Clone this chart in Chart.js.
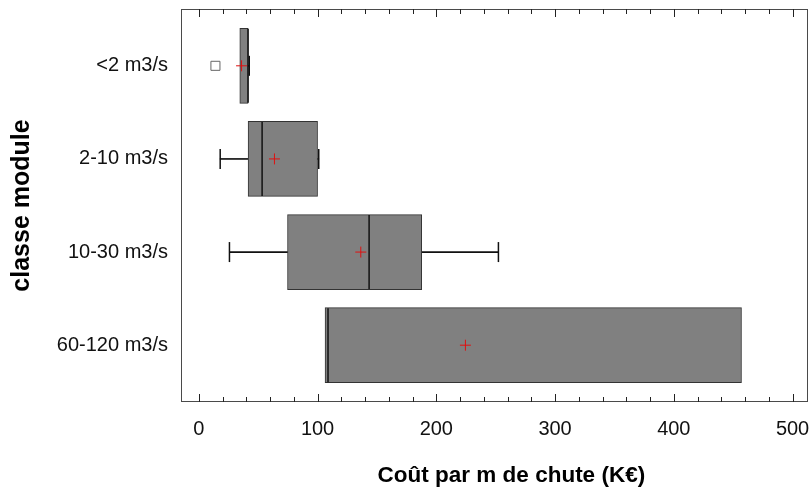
<!DOCTYPE html>
<html>
<head>
<meta charset="utf-8">
<script src="https://cdn.jsdelivr.net/npm/chart.js@4.4.0/dist/chart.umd.min.js"></script>
<style>
  html, body { margin: 0; padding: 0; background: #fff; }
  #wrap { width: 810px; height: 498px; }
</style>
</head>
<body>
<div id="wrap"><canvas id="boxChart" width="810" height="498"></canvas></div>
<script>
// --- Data ---
const categories = ["<2 m3/s", "2-10 m3/s", "10-30 m3/s", "60-120 m3/s"];
const q1Values = [34.5, 41.5, 74.7, 106.3];
const q3Values = [41.5, 100, 187.7, 457];
const medianValues = [41.5, 53.3, 143.4, 108.8];
const meanValues = [36, 63.7, 136.4, 224.5];
const whiskerLow = [34.5, 18, 25.8, 106.3];
const whiskerHigh = [42.5, 101, 252.3, 457];
const outlierCats = [0];
const outlierValues = [14];
const xTickLabels = [0, 100, 200, 300, 400, 500];
const xMinorTicks = [0, 20, 40, 60, 80, 100, 120, 140, 160, 180, 200, 220, 240, 260, 280, 300,
  320, 340, 360, 380, 400, 420, 440, 460, 480, 500];

const FONT = "'Liberation Sans Narrow', 'Arial Narrow', 'Liberation Sans', Arial, sans-serif";

// --- Build datasets ---
const whiskerData = [];
categories.forEach((_, i) => {
  if (whiskerLow[i] < q1Values[i]) whiskerData.push({ x: [whiskerLow[i], q1Values[i]], y: i });
  if (whiskerHigh[i] > q3Values[i]) whiskerData.push({ x: [q3Values[i], whiskerHigh[i]], y: i });
});

const capData = [];
categories.forEach((_, i) => {
  if (whiskerLow[i] < q1Values[i]) capData.push({ x: whiskerLow[i], y: i });
  if (whiskerHigh[i] > q3Values[i]) capData.push({ x: whiskerHigh[i], y: i });
});

const boxData = categories.map((_, i) => ({ x: [q1Values[i], q3Values[i]], y: i }));
const medianData = categories.map((_, i) => ({ x: medianValues[i], y: i }));
const meanData = categories.map((_, i) => ({ x: meanValues[i], y: i }));
const outlierData = outlierCats.map((c, i) => ({ x: outlierValues[i], y: c }));

// frame + inward tick marks
const frameTicks = {
  id: "frameTicks",
  afterDraw(chart) {
    const { ctx, chartArea: a, scales } = chart;
    ctx.save();
    ctx.strokeStyle = "#4a4a4a";
    ctx.lineWidth = 1;
    ctx.strokeRect(a.left + 0.5, a.top + 0.5, a.right - a.left - 1, a.bottom - a.top - 1);
    ctx.strokeStyle = "#222";
    xMinorTicks.forEach((v) => {
      const px = Math.round(scales.x.getPixelForValue(v)) + 0.5;
      const len = v % 100 === 0 ? 8 : 5;
      ctx.beginPath();
      ctx.moveTo(px, a.top);
      ctx.lineTo(px, a.top + len);
      ctx.moveTo(px, a.bottom);
      ctx.lineTo(px, a.bottom - len);
      ctx.stroke();
    });
    ctx.restore();
  },
};

// drop the label-overhang margins so the plot area sits where the reference has it
const noMargins = (scale) => {
  scale.paddingTop = 0;
  scale.paddingBottom = 0;
  scale.paddingLeft = 0;
  scale.paddingRight = 0;
};

new Chart(document.getElementById("boxChart"), {
  type: "bar",
  data: {
    datasets: [
      {
        type: "bar",
        indexAxis: "y",
        grouped: false,
        data: whiskerData,
        barThickness: 1,
        backgroundColor: "#111",
        borderWidth: 0,
        order: 5,
      },
      {
        type: "bar",
        indexAxis: "y",
        grouped: false,
        data: boxData,
        barThickness: 75,
        backgroundColor: "#808080",
        borderColor: "#333",
        borderWidth: 1,
        borderSkipped: false,
        order: 4,
      },
      {
        type: "scatter",
        data: capData,
        pointStyle: "line",
        rotation: 90,
        radius: 10,
        borderColor: "#111",
        borderWidth: 1.5,
        order: 3,
      },
      {
        type: "scatter",
        data: medianData,
        pointStyle: "line",
        rotation: 90,
        radius: 37,
        borderColor: "#111",
        borderWidth: 1.5,
        order: 2,
      },
      {
        type: "scatter",
        data: outlierData,
        pointStyle: "rect",
        radius: 6.4,
        backgroundColor: "#fff",
        borderColor: "#666",
        borderWidth: 1,
        order: 1,
      },
      {
        type: "scatter",
        data: meanData,
        pointStyle: "cross",
        radius: 5.5,
        borderColor: "#e01010",
        borderWidth: 1,
        order: 0,
      },
    ],
  },
  options: {
    responsive: false,
    animation: false,
    events: [],
    layout: { autoPadding: false, padding: { top: 9, right: 2, left: 0, bottom: 0 } },
    plugins: { legend: { display: false }, tooltip: { enabled: false } },
    scales: {
      x: {
        type: "linear",
        position: "bottom",
        offset: false,
        min: -15,
        max: 513,
        grid: { display: false, drawTicks: false, offset: false },
        border: { display: false },
        afterBuildTicks: (scale) => {
          scale.ticks = xTickLabels.map((v) => ({ value: v }));
        },
        afterFit: (scale) => {
          scale.height = 96;
          noMargins(scale);
        },
        ticks: {
          padding: 15,
          color: "#111",
          font: { family: FONT, size: 20 },
          maxRotation: 0,
        },
        title: {
          display: true,
          // leading spaces nudge the title right, as in the reference
          text: "\u2003\u2002Coût par m de chute (K€)",
          color: "#000",
          font: { family: FONT, size: 22.5, weight: "bold" },
          padding: { top: 0, bottom: 9 },
        },
      },
      y: {
        type: "linear",
        position: "left",
        offset: false,
        reverse: true,
        min: -0.61,
        max: 3.61,
        grid: { display: false, drawTicks: false, offset: false },
        border: { display: false },
        afterBuildTicks: (scale) => {
          scale.ticks = categories.map((_, i) => ({ value: i }));
        },
        afterFit: (scale) => {
          scale.width = 181;
          noMargins(scale);
        },
        ticks: {
          padding: 13,
          color: "#111",
          font: { family: FONT, size: 20 },
          callback: (value) => categories[value],
        },
        title: {
          display: true,
          text: "classe module",
          color: "#000",
          font: { family: FONT, size: 25, weight: "bold" },
          padding: { top: 7, bottom: 0 },
        },
      },
    },
  },
  plugins: [frameTicks],
});
</script>
</body>
</html>
